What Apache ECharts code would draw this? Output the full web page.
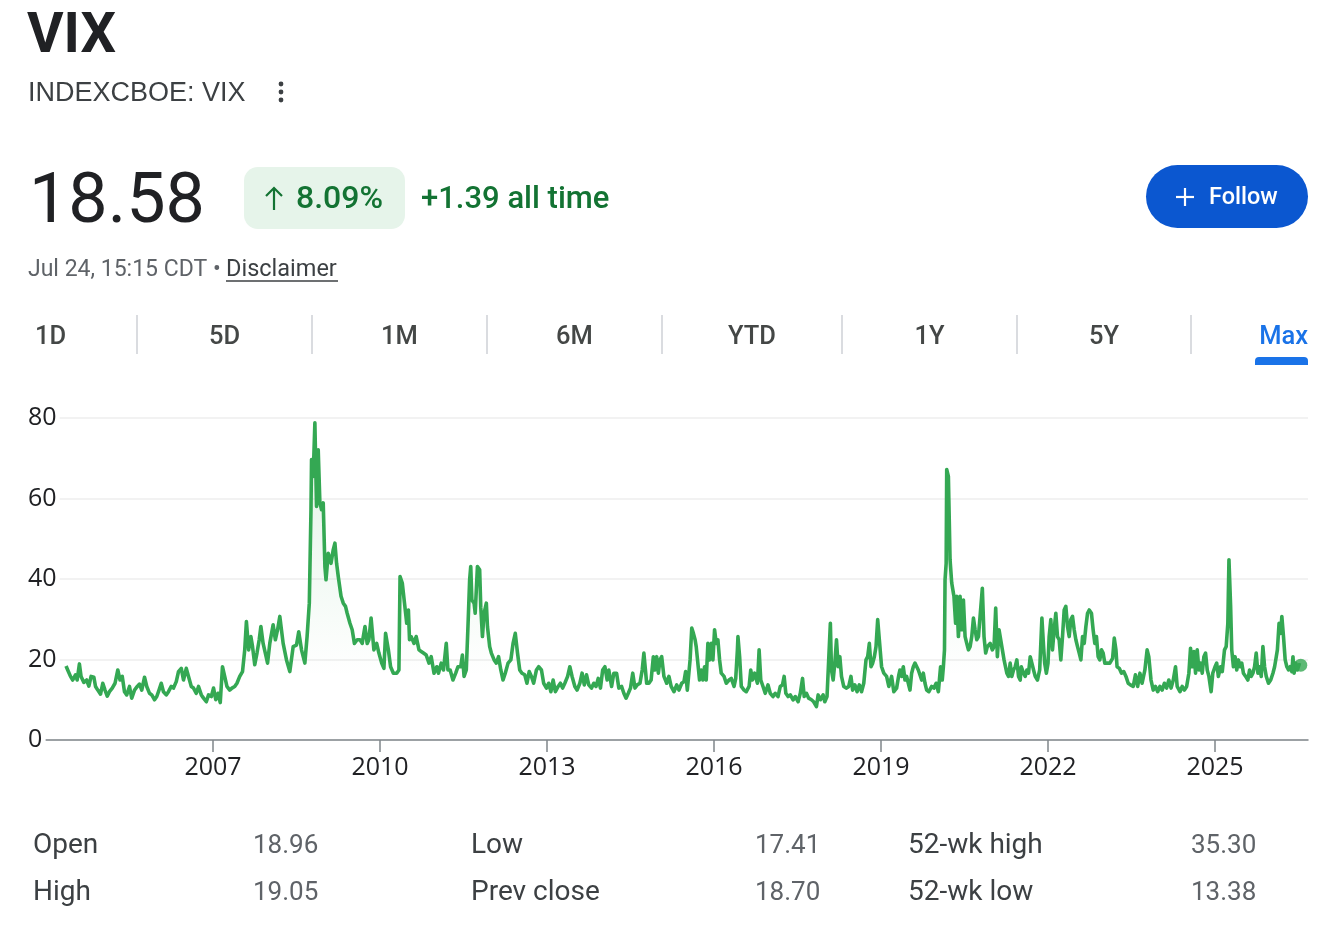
<!DOCTYPE html>
<html>
<head>
<meta charset="utf-8">
<script src="https://cdn.jsdelivr.net/npm/echarts@6/dist/echarts.min.js"></script>
<style>
html,body{margin:0;padding:0;background:#fff;}
#chart{width:1320px;height:933px;}
</style>
</head>
<body>
<div id="chart"></div>
<script>
// ---- data (decimal years, VIX close) ----
const years = [
2004.36,2004.39,2004.44,2004.48,2004.53,2004.56,2004.60,2004.63,2004.68,2004.73,2004.77,2004.81,2004.86,2004.89,2004.93,2004.98,
2005.02,2005.06,2005.10,2005.14,2005.19,2005.24,2005.29,2005.33,2005.37,2005.41,2005.45,2005.50,2005.54,2005.59,2005.64,2005.68,2005.72,2005.77,2005.81,2005.86,2005.90,2005.95,2005.99,
2006.03,2006.07,2006.11,2006.16,2006.20,2006.25,2006.29,2006.34,2006.38,2006.43,2006.47,2006.52,2006.56,2006.61,2006.65,2006.70,2006.74,2006.79,2006.83,2006.88,2006.92,2006.97,
2007.01,2007.05,2007.09,2007.13,2007.17,2007.21,2007.25,2007.30,2007.34,2007.39,2007.43,2007.48,2007.53,2007.57,2007.60,2007.64,2007.68,2007.71,2007.75,2007.79,2007.83,2007.86,2007.90,2007.94,2007.98,
2008.02,2008.08,2008.12,2008.16,2008.20,2008.26,2008.32,2008.38,2008.44,2008.50,2008.54,2008.59,2008.65,2008.69,2008.73,2008.76,2008.77,2008.80,2008.83,2008.86,2008.89,2008.92,2008.95,2008.98,
2009.01,2009.03,2009.07,2009.12,2009.16,2009.19,2009.22,2009.25,2009.30,2009.34,2009.38,2009.41,2009.46,2009.50,2009.54,2009.59,2009.64,2009.68,2009.73,2009.77,2009.80,2009.84,2009.89,2009.94,2009.98,
2010.03,2010.07,2010.10,2010.15,2010.19,2010.24,2010.30,2010.34,2010.36,2010.40,2010.44,2010.48,2010.51,2010.53,2010.56,2010.61,2010.65,2010.70,2010.74,2010.78,2010.83,2010.88,2010.92,2010.97,
2011.02,2011.05,2011.10,2011.14,2011.19,2011.22,2011.26,2011.31,2011.36,2011.40,2011.45,2011.48,2011.51,2011.55,2011.58,2011.61,2011.63,2011.65,2011.69,2011.71,2011.75,2011.79,2011.81,2011.84,2011.87,2011.91,2011.93,2011.97,
2012.00,2012.05,2012.09,2012.13,2012.17,2012.21,2012.25,2012.30,2012.35,2012.39,2012.43,2012.47,2012.51,2012.55,2012.60,2012.64,2012.68,2012.72,2012.76,2012.81,2012.85,2012.90,2012.94,2012.99,
2013.03,2013.07,2013.11,2013.15,2013.20,2013.24,2013.28,2013.32,2013.37,2013.41,2013.45,2013.50,2013.54,2013.59,2013.63,2013.67,2013.71,2013.75,2013.80,2013.84,2013.88,2013.92,2013.96,
2014.00,2014.04,2014.08,2014.11,2014.16,2014.20,2014.25,2014.29,2014.34,2014.38,2014.42,2014.46,2014.50,2014.54,2014.58,2014.62,2014.67,2014.71,2014.74,2014.79,2014.83,2014.87,2014.91,2014.94,2014.97,
2015.00,2015.03,2015.06,2015.10,2015.15,2015.19,2015.23,2015.28,2015.33,2015.37,2015.42,2015.46,2015.49,2015.52,2015.57,2015.60,2015.63,2015.66,2015.68,2015.71,2015.74,2015.77,2015.80,2015.83,2015.86,2015.89,2015.92,2015.95,2015.98,
2016.01,2016.04,2016.07,2016.10,2016.13,2016.18,2016.22,2016.27,2016.31,2016.36,2016.39,2016.42,2016.43,2016.46,2016.49,2016.54,2016.58,2016.63,2016.66,2016.69,2016.73,2016.78,2016.81,2016.84,2016.88,2016.92,2016.97,
2017.01,2017.06,2017.10,2017.15,2017.19,2017.23,2017.26,2017.29,2017.33,2017.37,2017.42,2017.46,2017.51,2017.55,2017.59,2017.62,2017.66,2017.70,2017.75,2017.79,2017.84,2017.87,2017.91,2017.96,2017.99,
2018.03,2018.06,2018.09,2018.11,2018.14,2018.17,2018.20,2018.23,2018.26,2018.29,2018.33,2018.38,2018.42,2018.46,2018.49,2018.53,2018.57,2018.61,2018.65,2018.69,2018.73,2018.76,2018.79,2018.82,2018.85,2018.88,2018.91,2018.94,2018.97,
2019.01,2019.05,2019.10,2019.14,2019.19,2019.23,2019.28,2019.32,2019.34,2019.37,2019.40,2019.43,2019.46,2019.49,2019.52,2019.55,2019.58,2019.61,2019.64,2019.67,2019.70,2019.73,2019.76,2019.79,2019.82,2019.86,2019.91,2019.95,2019.99,
2020.03,2020.05,2020.07,2020.10,2020.12,2020.14,2020.15,2020.17,2020.18,2020.21,2020.23,2020.24,2020.27,2020.30,2020.31,2020.34,2020.36,2020.39,2020.42,2020.45,2020.48,2020.51,2020.54,2020.57,2020.60,2020.63,2020.66,2020.69,2020.72,2020.75,2020.78,2020.82,2020.85,2020.88,2020.91,2020.96,
2021.00,2021.03,2021.06,2021.09,2021.12,2021.15,2021.18,2021.21,2021.26,2021.29,2021.32,2021.35,2021.38,2021.41,2021.44,2021.47,2021.50,2021.52,2021.56,2021.59,2021.62,2021.65,2021.68,2021.71,2021.74,2021.77,2021.81,2021.85,2021.89,2021.92,2021.94,2021.97,
2022.00,2022.02,2022.05,2022.08,2022.11,2022.14,2022.17,2022.20,2022.23,2022.26,2022.29,2022.32,2022.35,2022.38,2022.41,2022.44,2022.47,2022.50,2022.53,2022.56,2022.59,2022.62,2022.65,2022.68,2022.71,2022.74,2022.78,2022.81,2022.84,2022.87,2022.90,2022.93,2022.96,2022.99,
2023.02,2023.05,2023.11,2023.16,2023.19,2023.22,2023.24,2023.28,2023.32,2023.36,2023.40,2023.44,2023.48,2023.53,2023.57,2023.61,2023.65,2023.69,2023.74,2023.78,2023.81,2023.85,2023.89,2023.93,2023.97,
2024.01,2024.05,2024.09,2024.13,2024.17,2024.21,2024.25,2024.29,2024.32,2024.37,2024.41,2024.45,2024.49,2024.53,2024.56,2024.59,2024.62,2024.65,2024.68,2024.71,2024.74,2024.77,2024.80,2024.83,2024.86,2024.89,2024.93,2024.96,
2025.00,2025.03,2025.06,2025.10,2025.13,2025.17,2025.20,2025.23,2025.25,2025.28,2025.30,2025.33,2025.36,2025.39,2025.42,2025.45,2025.48,2025.51,2025.55,2025.59,2025.62,2025.65,2025.68,2025.71,2025.74,2025.77,2025.80,2025.83,2025.86,2025.89,2025.92,2025.96,
2026.00,2026.04,2026.07,2026.10,2026.12,2026.15,2026.18,2026.20,2026.23,2026.26,2026.29,2026.32,2026.35,2026.38,2026.40,2026.42,2026.45,2026.48,2026.51,2026.54
];
const vix = [
18.4,17.4,15.8,14.9,16.2,14.9,18.9,15.8,14.3,14.9,13.4,15.8,15.6,13.3,12.4,11.4,
14.1,12.4,10.9,12.0,12.9,14.1,17.4,14.9,15.8,12.0,11.2,13.3,10.4,12.4,13.3,13.9,12.4,15.6,13.3,11.6,11.2,10.0,10.8,
12.4,14.1,12.0,11.2,12.0,13.3,12.9,14.5,17.0,17.8,14.9,17.8,15.8,13.3,12.9,11.6,13.3,11.2,10.4,9.5,11.2,10.8,
12.9,10.0,11.6,9.3,18.2,15.8,13.3,12.4,12.9,13.3,14.1,15.8,17.0,22.4,29.4,22.4,25.7,23.2,18.7,21.6,24.9,28.2,24.0,21.6,19.1,
24.0,28.6,24.9,27.4,30.7,24.0,19.9,17.0,23.2,23.6,26.9,22.4,19.1,25.7,34.0,57.2,69.7,65.5,78.8,58.0,72.1,58.9,57.2,58.9,
43.1,39.8,46.4,43.9,47.3,48.9,43.9,40.6,35.7,34.0,33.2,31.5,29.0,27.4,24.0,24.9,24.9,24.0,28.2,24.0,24.9,30.3,22.4,24.0,21.6,
19.1,17.8,26.5,22.4,18.2,16.6,16.6,17.4,40.6,39.0,34.0,29.0,32.3,24.9,25.7,24.0,25.7,22.4,22.0,21.6,21.1,19.1,20.7,16.6,
18.2,16.6,19.1,17.4,24.0,17.4,17.4,14.9,16.6,18.2,18.2,21.1,15.8,17.4,28.2,39.8,43.1,34.8,34.0,31.5,43.1,42.3,33.0,25.7,31.5,34.0,28.2,23.2,
21.6,19.9,19.1,20.7,17.4,14.9,16.6,19.1,19.9,24.0,26.5,21.6,17.4,16.6,16.2,14.1,17.0,15.8,14.1,17.4,18.2,17.4,14.1,12.9,
14.1,12.0,14.9,12.0,13.3,14.1,12.9,14.1,15.8,18.2,15.8,13.3,12.4,14.1,16.6,13.7,16.2,13.7,12.9,14.1,13.3,15.3,12.9,
17.4,18.2,14.9,17.4,13.3,16.6,16.6,12.9,13.3,11.6,10.4,11.6,12.9,16.6,12.9,13.7,14.1,17.4,21.6,14.1,14.1,14.9,20.7,17.4,20.7,
16.6,19.9,20.7,15.8,14.1,15.8,13.3,12.0,13.7,12.4,14.1,14.5,17.0,12.4,19.9,27.8,26.5,24.9,23.2,23.6,14.9,17.4,14.9,18.2,14.9,24.0,19.9,24.0,19.9,
27.4,24.0,24.9,19.9,16.6,15.8,14.1,14.9,15.3,13.3,15.3,22.4,25.7,20.7,13.3,12.4,12.0,13.3,17.4,14.9,16.6,14.1,22.4,14.9,13.3,11.6,13.7,
11.6,10.8,11.6,10.8,13.3,13.7,15.8,11.6,10.8,11.2,9.95,10.8,9.5,11.6,15.3,10.8,11.6,10.4,10.0,9.5,8.3,11.2,10.0,11.2,9.5,
10.8,19.9,29.0,17.4,14.9,19.1,24.9,18.2,20.7,15.8,13.3,12.9,13.3,15.8,12.4,13.7,12.0,13.7,12.0,14.1,19.9,20.7,24.0,18.2,19.1,20.7,23.2,29.9,24.9,
18.2,16.6,15.8,13.3,15.8,12.0,12.9,16.2,17.4,15.8,18.2,14.9,15.8,14.1,12.4,16.6,18.2,19.1,19.5,17.4,17.0,14.9,16.6,14.1,12.4,12.0,13.3,12.9,14.1,
12.0,11.6,18.2,14.9,18.2,22.4,39.8,43.9,67.2,65.5,65.5,44.8,39.0,36.5,35.7,29.0,35.7,25.7,35.7,27.4,34.8,25.7,24.0,22.4,23.2,25.7,30.3,27.4,24.9,25.7,25.7,37.7,25.7,21.6,23.2,24.0,
22.4,23.2,32.8,20.7,27.4,27.4,22.4,19.9,16.6,15.8,19.1,15.8,17.4,18.2,19.9,15.8,14.9,18.2,16.6,15.8,17.4,16.6,20.7,19.1,17.4,15.8,14.9,17.4,30.3,23.2,19.1,16.6,
19.1,25.7,29.9,22.4,27.4,31.5,25.7,24.9,19.9,25.7,32.3,33.2,28.2,25.7,29.9,30.7,27.4,24.9,23.2,21.6,19.9,25.7,24.0,28.2,31.5,32.3,31.5,27.4,24.0,25.7,20.7,19.9,22.4,21.6,
19.1,18.7,19.1,20.3,25.3,22.4,18.2,17.8,16.6,17.0,15.8,14.1,13.7,13.3,16.2,13.3,16.6,14.1,17.4,22.4,20.7,14.9,12.4,13.3,12.0,
13.3,12.4,14.1,12.9,14.9,12.9,14.9,18.2,13.3,12.0,13.3,12.4,13.3,16.6,22.8,18.2,22.0,16.6,22.4,17.4,19.1,16.6,20.7,21.6,17.4,15.8,12.0,16.6,
18.2,19.1,15.8,18.2,17.0,22.4,23.2,29.0,44.8,33.2,22.4,18.2,20.7,17.4,19.9,18.2,19.1,16.6,15.8,14.9,17.4,15.8,16.6,18.2,21.6,16.6,18.2,15.8,23.2,18.2,15.8,14.1,
14.9,16.6,18.2,20.7,22.4,29.0,26.5,30.7,25.7,19.9,18.2,17.4,18.2,17.0,20.7,16.6,19.1,17.4,18.7,18.58
];
const xTickYears = [2007, 2010, 2013, 2016, 2019, 2022, 2025];
const yTicks = [0, 20, 40, 60, 80];
const tabs = ['1D', '5D', '1M', '6M', 'YTD', '1Y', '5Y', 'Max'];
const statLabels1 = ['Open', 'Low', '52-wk high'];
const statValues1 = ['18.96', '17.41', '35.30'];
const statLabels2 = ['High', 'Prev close', '52-wk low'];
const statValues2 = ['19.05', '18.70', '13.38'];

const FONT = 'Roboto, "Noto Sans", Arial, sans-serif';
const SANS = '"Liberation Sans", Arial, sans-serif';
const AXISFONT = '"Open Sans", Roboto, sans-serif';
const GREEN = '#34a853';

const seriesData = years.map((t, i) => [t, vix[i]]);
const lastPoint = seriesData[seriesData.length - 1];

function txt(text, x, y, size, color, opts) {
  opts = opts || {};
  return {
    type: 'text', x: x, y: y, silent: true,
    style: {
      text: text, fill: color, fontSize: size, fontFamily: opts.family || FONT,
      fontWeight: opts.weight || 'normal',
      align: opts.align || 'left', textAlign: opts.align || 'left',
      verticalAlign: 'middle', textVerticalAlign: 'middle'
    }
  };
}

const graphics = [];
// header
graphics.push(txt('VIX', 27, 38, 56, '#202124', {weight: 'bold'}));
graphics.push(txt('INDEXCBOE: VIX', 28, 94, 27, '#3c4043', {family: SANS}));
[84, 92, 100].forEach(cy => graphics.push({type: 'circle', silent: true, shape: {cx: 281, cy: cy, r: 2.4}, style: {fill: '#3c4043'}}));
graphics.push(txt('18.58', 29, 204, 70, '#202124'));
graphics.push({type: 'rect', silent: true, shape: {x: 244, y: 167, width: 161, height: 62, r: 14}, style: {fill: '#e6f4ea'}});
// up arrow icon in badge
graphics.push({type: 'line', silent: true, shape: {x1: 274, y1: 188, x2: 274, y2: 210}, style: {stroke: '#137333', lineWidth: 2.2}});
graphics.push({type: 'polyline', silent: true, shape: {points: [[266, 196], [274, 188], [282, 196]]}, style: {stroke: '#137333', lineWidth: 2.2, fill: null}});
graphics.push(txt('8.09%', 296, 200, 32, '#137333', {weight: 500}));
graphics.push(txt('+1.39 all time', 421, 200, 31, '#137333', {weight: 500}));
// follow button
graphics.push({type: 'rect', silent: true, shape: {x: 1146, y: 165, width: 162, height: 63, r: 31.5}, style: {fill: '#0b57d0'}});
graphics.push({type: 'line', silent: true, shape: {x1: 1176, y1: 197, x2: 1194, y2: 197}, style: {stroke: '#fff', lineWidth: 2.2}});
graphics.push({type: 'line', silent: true, shape: {x1: 1185, y1: 188, x2: 1185, y2: 206}, style: {stroke: '#fff', lineWidth: 2.2}});
graphics.push(txt('Follow', 1209, 198, 23.5, '#ffffff', {weight: 500}));
// date line
graphics.push(txt('Jul 24, 15:15 CDT •', 28, 270, 23, '#5f6368'));
graphics.push(txt('Disclaimer', 226, 270, 23.5, '#3c4043'));
graphics.push({type: 'line', silent: true, shape: {x1: 226, y1: 281, x2: 338, y2: 281}, style: {stroke: '#3c4043', lineWidth: 1.3}});
// tabs
const sepX = [137, 312, 487, 662, 842, 1017, 1191];
sepX.forEach(x => graphics.push({type: 'line', silent: true, shape: {x1: x, y1: 315, x2: x, y2: 354}, style: {stroke: '#dadce0', lineWidth: 2}}));
tabs.forEach((t, i) => {
  if (i === 0) graphics.push(txt(t, 35, 338, 25.5, '#444746', {weight: 500}));
  else if (i === tabs.length - 1) graphics.push(txt(t, 1308, 338, 25.5, '#1a73e8', {weight: 500, align: 'right'}));
  else graphics.push(txt(t, (sepX[i - 1] + sepX[i]) / 2, 338, 25.5, '#444746', {weight: 500, align: 'center'}));
});
graphics.push({type: 'rect', silent: true, shape: {x: 1255, y: 357, width: 53, height: 8, r: [4, 4, 0, 0]}, style: {fill: '#1a73e8'}});
// stats
const labelX = [33, 471, 908], valueX = [253, 755, 1191];
statLabels1.forEach((l, i) => { graphics.push(txt(l, labelX[i], 846, 28, '#3c4043')); graphics.push(txt(statValues1[i], valueX[i], 846, 26, '#5f6368')); });
statLabels2.forEach((l, i) => { graphics.push(txt(l, labelX[i], 893, 28, '#3c4043')); graphics.push(txt(statValues2[i], valueX[i], 893, 26, '#5f6368')); });

const chart = echarts.init(document.getElementById('chart'), null, {renderer: 'canvas'});
chart.setOption({
  backgroundColor: '#ffffff',
  animation: false,
  grid: {left: 46, right: 12, top: 418, bottom: 193},
  xAxis: {
    type: 'value', min: 2004, max: 2026.67,
    splitLine: {show: false},
    axisLine: {show: true, onZero: false, lineStyle: {color: '#80868b', width: 1.5}},
    axisTick: {show: true, customValues: xTickYears, length: 12, lineStyle: {color: '#80868b', width: 1.5}},
    axisLabel: {customValues: xTickYears, formatter: v => String(Math.round(v)), fontSize: 25, color: '#202124', fontFamily: AXISFONT, margin: 15}
  },
  yAxis: {
    type: 'value', min: 0, max: 80, interval: 20,
    axisLine: {show: false}, axisTick: {show: false},
    splitLine: {show: true, lineStyle: {color: '#eeeeee', width: 1.5}},
    axisLabel: {fontSize: 25, color: '#202124', fontFamily: AXISFONT, align: 'left', margin: 18,
      backgroundColor: '#ffffff', padding: [4, 3, 0, 0],
      formatter: v => yTicks.indexOf(v) >= 0 ? String(v) : ''}
  },
  series: [
    {
      type: 'line', data: seriesData, showSymbol: false, symbol: 'none',
      lineStyle: {color: GREEN, width: 3.6, join: 'round'},
      areaStyle: {color: new echarts.graphic.LinearGradient(0, 0, 0, 1, [
        {offset: 0, color: 'rgba(52,168,83,0.22)'},
        {offset: 0.8, color: 'rgba(52,168,83,0)'},
        {offset: 1, color: 'rgba(52,168,83,0)'}
      ])},
      z: 3
    },
    {
      type: 'scatter', data: [lastPoint], symbolSize: 13,
      itemStyle: {color: GREEN}, z: 4
    }
  ],
  graphic: {elements: graphics}
});
</script>
</body>
</html>
